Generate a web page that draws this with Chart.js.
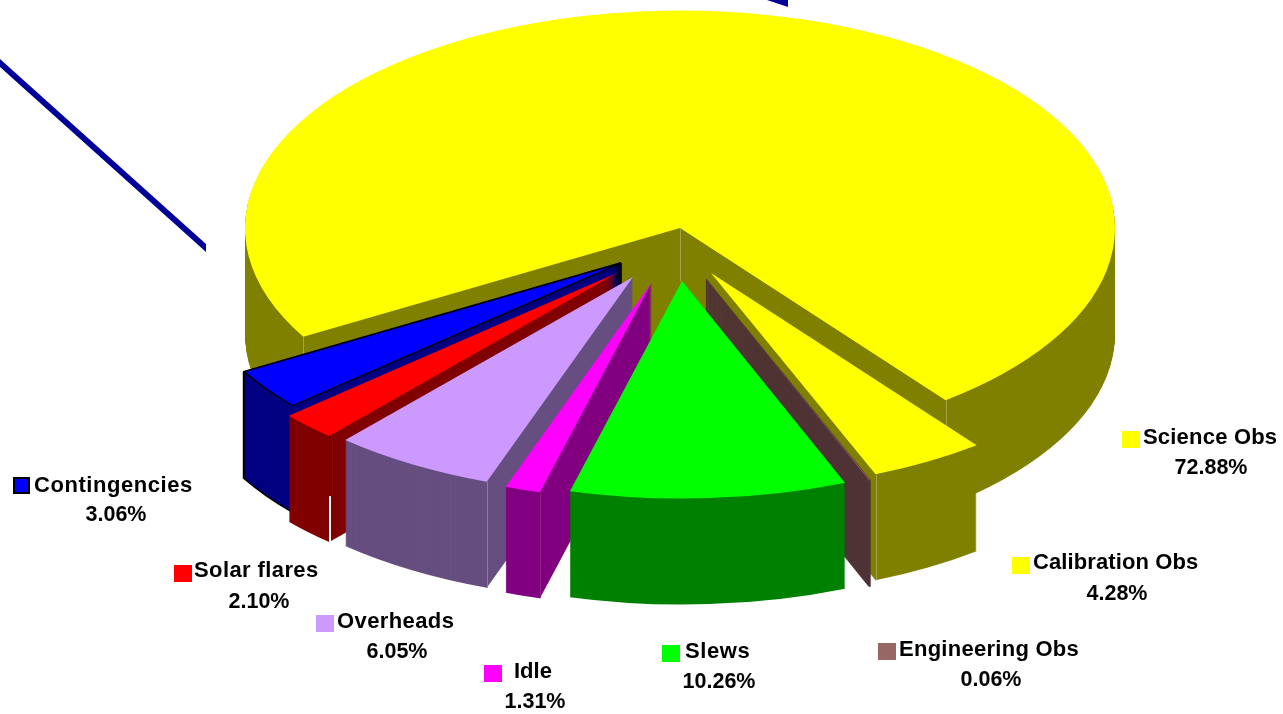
<!DOCTYPE html>
<html>
<head>
    <meta charset="utf-8">
    <title>Observing Time Breakdown</title>
    <script src="https://cdn.jsdelivr.net/npm/chart.js"></script>
    <style>
        html, body { margin: 0; padding: 0; background: #fff; overflow: hidden; }
        canvas { display: block; }
    </style>
</head>
<body>
    <canvas id="pieChart" width="1283" height="714"></canvas>

    <script>
        const categories = ['Science Obs', 'Calibration Obs', 'Engineering Obs', 'Slews', 'Idle', 'Overheads', 'Solar flares', 'Contingencies'];
        const values = [72.88, 4.28, 0.06, 10.26, 1.31, 6.05, 2.10, 3.06];
        const topColors = ['#ffff00', '#ffff00', '#996666', '#00ff00', '#ff00ff', '#cc99ff', '#ff0000', '#0000ff'];
        const sideColors = ['#808000', '#808000', '#4f3336', '#008000', '#800080', '#664e80', '#800000', '#000080'];
        const borderWidths = [0, 0, 0, 0, 0, 0, 0, 2];
        // very thin slices get a hairline in their own colour so they don't fade out
        const selfBorders = [0, 0, 1, 0, 0, 0, 0, 0];

        // slice explosion on screen, in pixels
        const explodeX = [0, 31, 26, 2, -28, -47, -63, -59];
        const explodeY = [0, 45, 51, 53, 54, 49, 45, 35];
        // back to front
        const drawOrder = [0, 7, 6, 5, 1, 2, 4, 3];
        // which cut edges show a thin line down the side wall
        const cornerEdges = [['startAngle', 'endAngle'], ['endAngle'], [], [], ['startAngle'], ['startAngle'], ['startAngle'], []];
        const cornerColors = ['#a3a34d', '#a3a34d', '', '', '#8f1f8f', '#8d7aa3', '#000080', ''];

        // label layout: swatch x/y, name x/baseline/letter spacing, percent centre x/baseline
        const swatchX = [1122, 1012, 878, 662, 484, 316, 174, 14];
        const swatchY = [431, 557, 643, 645, 665, 615, 565, 478];
        const nameX = [1143, 1033, 899, 685, 514, 337, 194, 34];
        const nameY = [444, 569, 656, 658, 678, 628, 577, 492];
        const nameSpacing = [0.2, 0.1, 0.27, 0.6, 0, 0.4, 0.4, 0.55];
        const pctX = [1211, 1117, 991, 719, 535, 397, 259, 116];
        const pctY = [474, 600, 686, 688, 708, 658, 608, 521];

        const pieX = 680, pieY = 228, squash = 0.5, depth = 106;

        const drawFace = (ctx, arc, color, dx, dy, lineWidth, lineColor) => {
            const saved = arc.options;
            arc.options = Object.assign({}, saved, {
                backgroundColor: color,
                borderColor: lineColor || '#000000',
                borderWidth: lineWidth,
                offset: 0
            });
            ctx.save();
            ctx.translate(pieX + dx, pieY + dy);
            ctx.scale(1, squash);
            ctx.translate(-arc.x, -arc.y);
            arc.draw(ctx);
            ctx.restore();
            arc.options = saved;
        };

        const vLine = (ctx, x, y1, y2, color) => {
            ctx.fillStyle = color;
            ctx.fillRect(Math.round(x), y1, 1, y2 - y1);
        };

        const pie3d = {
            id: 'pie3d',
            beforeDatasetDraw() {
                return false;
            },
            afterDatasetsDraw(chart) {
                const ctx = chart.ctx;
                const arcs = chart.getDatasetMeta(0).data;
                drawOrder.forEach(i => {
                    const arc = arcs[i];
                    const dx = explodeX[i], dy = explodeY[i], bw = borderWidths[i], own = selfBorders[i];
                    if (bw) {
                        // outline of the extruded block first, the fill covers its inner half
                        for (let z = depth; z >= 0; z--) {
                            drawFace(ctx, arc, '#000000', dx, dy + z, bw * 2);
                        }
                    }
                    for (let z = depth; z > 0; z--) {
                        drawFace(ctx, arc, sideColors[i], dx, dy + z, own, sideColors[i]);
                    }
                    drawFace(ctx, arc, topColors[i], dx, dy, bw || own, bw ? '#000000' : sideColors[i]);

                    cornerEdges[i].forEach(edge => {
                        const a = arc[edge];
                        const x = pieX + dx + Math.cos(a) * arc.outerRadius;
                        const y = pieY + dy + Math.sin(a) * arc.outerRadius * squash;
                        vLine(ctx, x, y, y + depth, cornerColors[i]);
                    });
                    if (i === 0) {
                        vLine(ctx, pieX, pieY, pieY + 53, cornerColors[0]);
                    }
                    if (categories[i] === 'Solar flares') {
                        // the side wall splits open near the bottom
                        const a = arc.startAngle;
                        const x = pieX + dx + Math.cos(a) * arc.outerRadius;
                        const y = pieY + dy + Math.sin(a) * arc.outerRadius * squash;
                        ctx.fillStyle = '#ffffff';
                        ctx.fillRect(Math.round(x), y + 60, 2, depth - 60);
                    }
                });

                // stray navy strokes left in the original slide
                ctx.fillStyle = '#000099';
                ctx.beginPath();
                ctx.moveTo(0, 59);
                ctx.lineTo(206, 244);
                ctx.lineTo(206, 252);
                ctx.lineTo(0, 67);
                ctx.closePath();
                ctx.fill();
                ctx.beginPath();
                ctx.moveTo(767, 0);
                ctx.lineTo(788, 0);
                ctx.lineTo(788, 7);
                ctx.closePath();
                ctx.fill();

                ctx.save();
                ctx.textBaseline = 'alphabetic';
                categories.forEach((name, i) => {
                    ctx.fillStyle = topColors[i];
                    if (borderWidths[i]) {
                        ctx.fillRect(swatchX[i], swatchY[i], 15, 15);
                        ctx.strokeStyle = '#000000';
                        ctx.lineWidth = 2;
                        ctx.strokeRect(swatchX[i], swatchY[i], 15, 15);
                    } else {
                        ctx.fillRect(swatchX[i], swatchY[i], 18, 17);
                    }
                    ctx.fillStyle = '#000000';
                    ctx.font = 'bold 22px "Liberation Sans", Arial, sans-serif';
                    ctx.textAlign = 'left';
                    ctx.letterSpacing = nameSpacing[i] + 'px';
                    ctx.fillText(name, nameX[i], nameY[i]);
                    ctx.font = 'bold 21.5px "Liberation Sans", Arial, sans-serif';
                    ctx.textAlign = 'center';
                    ctx.letterSpacing = '0px';
                    ctx.fillText(values[i].toFixed(2) + '%', pctX[i], pctY[i]);
                });
                ctx.restore();
            }
        };

        new Chart(document.getElementById('pieChart').getContext('2d'), {
            type: 'pie',
            data: {
                labels: categories,
                datasets: [{
                    data: values,
                    backgroundColor: topColors,
                    borderWidth: 0
                }]
            },
            options: {
                responsive: false,
                animation: false,
                radius: 435,
                rotation: -120,
                events: [],
                plugins: {
                    legend: { display: false },
                    tooltip: { enabled: false }
                }
            },
            plugins: [pie3d]
        });
    </script>
</body>
</html>
